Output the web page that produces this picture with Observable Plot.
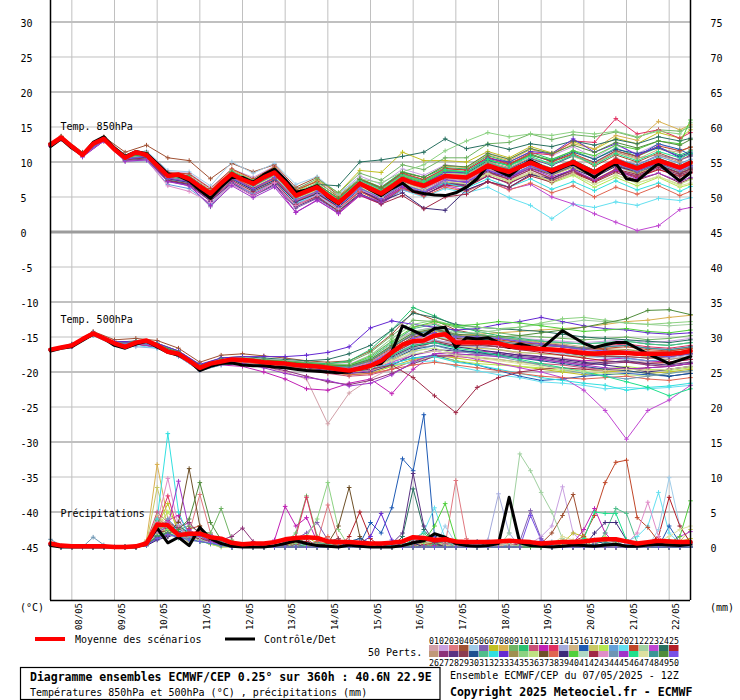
<!DOCTYPE html>
<html><head><meta charset="utf-8">
<script src="https://cdn.jsdelivr.net/npm/d3@7"></script>
<script src="https://cdn.jsdelivr.net/npm/@observablehq/plot@0.6"></script>
<style>body{margin:0;background:#fff}svg{display:block}</style>
</head><body><div id="chart"></div>
<script>
// ---------- time axes (hours after 07/05/2025 12Z) ----------
const hours6 = d3.range(0, 361, 6);
const hours12 = d3.range(0, 361, 12);
const hours850 = [0,6,18,30,42,54,66,78,90,102,114,126,138,150,162,174,186,198,210,222,234,246,258,270,282,294,306,318,330,342,354,360];
const dayHours = [12,36,60,84,108,132,156,180,204,228,252,276,300,324,348];
const dayLabels = ["08/05","09/05","10/05","11/05","12/05","13/05","14/05","15/05","16/05","17/05","18/05","19/05","20/05","21/05","22/05"];
const yTicks = [30,25,20,15,10,5,0,-5,-10,-15,-20,-25,-30,-35,-40,-45];
const rightTickLabels = ["75","70","65","60","55","50","45","40","35","30","25","20","15","10","5","0"];
const gridMajor = [30,20,10,-10,-20,-30,-40];
const gridMinor = [25,15,5,-5,-15,-25,-35];

// ---------- ensemble mean & control (6-hourly) ----------
const mean850 = [12.5,13.5,12.2,11.0,12.6,13.3,11.8,10.6,11.4,11.0,9.5,8.0,8.2,7.6,6.5,5.5,7.0,8.3,7.5,6.9,7.8,8.5,7.0,5.2,5.8,6.4,5.2,4.2,5.5,6.9,6.2,5.5,6.5,7.6,7.0,6.6,7.3,8.0,7.9,7.8,8.6,9.5,9.0,8.6,9.3,9.9,9.3,8.8,9.4,10.0,9.2,8.5,9.4,10.2,9.6,9.1,9.7,10.2,9.7,9.2,9.9];
const ctrl850 = [12.2,13.3,12.0,11.0,12.8,13.6,12.0,10.8,11.5,11.2,9.8,8.3,8.0,7.3,6.0,4.8,6.5,7.8,7.8,7.1,8.2,9.0,7.5,5.7,6.0,6.6,5.0,4.0,5.5,7.0,6.0,5.2,6.2,7.0,5.8,5.5,5.3,5.2,5.6,6.4,7.6,9.5,8.7,8.0,9.2,10.2,9.4,8.5,9.2,9.8,8.8,7.8,9.0,9.8,7.6,7.3,8.6,9.8,8.5,7.3,8.5];
const mean500 = [-16.8,-16.5,-16.2,-15.3,-14.5,-15.2,-15.9,-16.4,-15.8,-15.5,-16.2,-17.1,-17.4,-18.4,-19.4,-18.8,-18.5,-18.2,-18.3,-18.4,-18.6,-18.7,-18.8,-19.0,-19.1,-19.2,-19.4,-19.6,-19.8,-19.5,-19.1,-18.4,-17.2,-16.1,-15.6,-15.5,-14.8,-14.6,-15.8,-15.8,-15.8,-15.8,-15.9,-16.3,-16.5,-16.6,-16.7,-16.8,-16.9,-17.1,-17.3,-17.4,-17.3,-17.2,-17.3,-17.4,-17.4,-17.4,-17.4,-17.3,-17.0];
const ctrl500 = [-17.0,-16.6,-16.4,-15.5,-14.6,-15.2,-16.2,-16.6,-16.0,-15.6,-16.4,-17.2,-17.6,-18.4,-19.8,-19.2,-18.8,-18.7,-19.0,-19.1,-19.1,-19.3,-19.4,-19.6,-19.8,-19.9,-20.0,-20.1,-20.0,-19.4,-19.1,-18.8,-17.1,-13.4,-14.1,-14.8,-13.8,-13.6,-16.5,-15.1,-15.3,-15.1,-15.8,-16.5,-16.0,-16.4,-16.7,-15.4,-14.1,-15.0,-15.9,-16.5,-16.1,-15.8,-15.8,-16.6,-17.4,-18.1,-18.8,-18.3,-17.8];
const meanPrecip = [0.5,0.2,0.1,0.1,0.1,0.1,0,0,0.1,0.5,3.2,3.1,1.7,1.9,1.9,1.4,1.2,0.6,0.4,0.5,0.5,0.7,1.1,1.3,1.4,1.3,0.8,0.7,0.7,0.6,0.5,0.5,0.6,0.8,1.4,1.3,1.0,1.1,0.8,0.7,0.7,0.7,0.8,0.9,0.8,0.7,0.5,0.6,0.7,0.7,0.8,1.0,1.1,1.1,0.8,0.5,0.7,0.9,0.8,0.7,0.7];
const ctrlPrecip = [0.2,0,0,0,0,0,0,0,0,0.5,2.7,0.6,1.4,0.2,2.8,1.2,0.5,0.1,0,0,0,0.2,0.5,0.9,0.5,0.2,0.1,0,0.3,0.1,0,0,0,0.2,0.6,0.9,1.9,1.4,0.5,0.2,0.1,0.2,0.5,7.1,0.6,0.2,0.1,0,0.1,0.3,0.2,0.1,0.3,0.4,0.1,0.1,0.3,0.4,0.3,0.2,0.4];

// ---------- member colours (01..50) ----------
const memberColors = ["#d2a0a8","#c8a0e0","#e07880","#a05032","#a0cce8","#8260b0","#c0c020","#d8b050","#70b464","#28c070",
"#c85078","#c020b4","#e03060","#a4aadc","#d0b482","#1e5ab4","#c8c864","#b4e650","#64a0d8","#64e0f0",
"#c04628","#a0d0a0","#c046d2","#287060","#b41e28","#c09878","#8c3278","#5a3282","#8c3c50","#1e5090",
"#50be8c","#32e0e0","#6428d2","#a09050","#8cd282","#bee282","#6e5028","#e06450","#3c2878","#50d03c",
"#b0d8c4","#a02846","#e08cc8","#6e96b4","#a032c8","#1ee08c","#dce0a0","#3c9696","#508c3c","#7850e6"];

// ---------- 850 hPa perturbed members (hours850) ----------
const pert850 = [
[12.6,13.6,11.1,13.4,10.9,11.3,8.5,8.2,6.0,8.8,7.2,8.6,5.0,6.0,3.9,6.2,4.8,6.8,5.6,7.0,6.5,8.2,7.4,8.6,7.6,8.8,7.5,9.0,8.0,9.4,8.2,8.8],
[12.4,13.5,11.2,13.2,10.7,11.4,8.6,8.4,6.3,9.0,7.8,9.4,6.2,7.3,5.4,8.0,6.8,9.0,8.1,9.6,9.2,11.3,10.4,12.0,10.9,12.2,10.6,12.4,11.2,12.6,11.5,12.2],
[12.3,13.3,10.9,13.0,10.2,10.4,7.2,6.8,4.6,7.2,5.6,7.1,3.8,5.0,3.0,5.8,4.6,6.9,6.2,7.6,7.6,9.3,8.3,9.8,8.9,10.1,8.7,10.6,9.4,10.4,9.0,9.6],
[12.7,13.7,11.4,13.6,11.4,12.4,10.6,10.2,7.6,9.8,8.6,9.6,6.4,7.8,5.2,7.6,6.2,8.2,7.3,8.8,8.6,10.4,9.6,11.2,10.0,11.1,9.4,11.0,10.0,11.3,10.2,11.0],
[12.6,13.6,11.2,13.5,11.0,11.6,8.8,8.6,6.6,10.0,8.4,9.8,6.8,7.9,5.5,7.7,6.0,7.9,6.8,8.1,7.7,9.2,8.0,9.3,8.3,9.6,8.1,9.9,8.7,9.8,8.8,9.5],
[12.4,13.4,10.8,13.1,10.3,10.5,7.4,6.7,3.6,6.8,5.2,6.6,3.4,4.8,2.8,5.4,4.2,6.2,5.6,7.0,6.8,8.6,7.9,9.4,8.4,9.8,8.6,10.4,9.6,11.0,10.3,10.8],
[12.5,13.5,11.1,13.3,10.8,11.2,8.3,7.9,5.9,8.6,7.0,8.8,5.7,7.4,5.6,8.8,8.5,11.4,10.2,10.2,10.0,11.5,10.6,12.2,11.3,12.9,11.8,13.4,12.6,14.2,13.4,14.6],
[12.6,13.6,11.2,13.4,10.8,11.3,8.4,8.0,5.8,8.9,7.4,9.2,6.0,7.2,5.0,7.6,6.4,8.6,7.8,9.4,9.2,11.0,10.2,11.8,11.0,12.6,11.9,13.8,13.1,15.8,14.6,15.3],
[12.5,13.5,11.0,13.4,10.8,11.0,8.2,7.8,5.9,8.6,7.4,9.0,6.1,7.6,5.6,8.4,7.4,9.6,8.9,10.6,10.6,12.6,12.8,14.0,13.2,13.9,13.6,14.3,13.5,14.6,14.4,15.0],
[12.5,13.4,11.0,13.2,10.5,10.9,7.8,7.4,5.2,8.1,6.8,8.3,5.4,6.8,4.8,7.6,6.4,8.6,7.8,9.2,9.0,10.9,10.0,11.4,10.4,11.6,10.4,12.0,10.8,12.1,11.0,11.6],
[12.4,13.4,10.9,13.2,10.4,10.8,7.6,7.2,5.0,7.8,6.2,7.8,4.6,5.8,3.6,6.2,4.8,6.9,5.9,7.2,6.9,8.4,7.6,8.9,7.7,8.8,7.3,8.9,7.9,9.0,7.9,8.4],
[12.3,13.3,10.8,13.1,10.2,10.4,7.3,6.6,4.4,7.2,5.4,6.9,2.8,4.6,2.6,5.2,4.0,6.0,5.2,6.8,6.6,8.4,7.6,9.3,8.2,9.6,8.0,9.8,8.7,9.9,8.7,9.2],
[12.6,13.5,11.1,13.4,10.7,11.1,8.1,7.7,5.6,8.4,7.0,8.6,5.4,6.6,4.6,7.3,6.2,8.3,7.4,9.0,8.9,10.6,9.7,11.3,11.0,13.0,12.8,16.2,14.0,14.6,13.4,14.2],
[12.5,13.5,11.0,13.3,10.6,11.0,8.0,7.5,5.3,8.2,6.6,8.2,4.9,6.2,4.0,6.7,5.3,7.4,6.6,7.9,7.6,9.4,8.5,9.6,8.2,9.3,7.8,9.4,8.2,9.2,8.0,8.6],
[12.4,13.4,11.0,13.3,10.6,11.1,8.2,7.8,5.7,8.5,7.1,8.7,5.5,6.8,4.6,7.2,5.8,7.9,7.0,8.4,8.2,9.9,9.1,10.5,9.6,10.8,9.6,11.4,10.4,11.8,11.4,12.2],
[12.5,13.5,11.0,13.3,10.5,10.9,7.9,7.4,5.2,8.0,6.6,8.1,4.8,6.0,3.9,6.5,5.2,7.4,6.5,8.1,8.0,9.8,9.0,10.5,9.5,10.9,10.0,11.6,10.8,12.6,11.8,11.0],
[12.5,13.5,11.1,13.4,10.7,11.1,8.1,7.8,5.6,8.5,7.1,8.7,5.2,6.3,4.0,6.6,5.2,7.2,6.3,7.6,7.3,9.0,8.0,9.2,8.1,9.2,7.8,9.5,8.3,9.3,8.2,8.7],
[12.4,13.4,10.9,13.2,10.5,10.9,7.9,7.4,5.3,8.0,6.5,8.0,4.7,5.9,3.8,6.4,4.9,6.9,5.8,7.1,6.7,8.3,7.2,8.3,7.0,8.1,6.4,7.8,6.6,7.8,6.4,6.8],
[12.4,13.3,10.8,13.1,10.1,10.2,6.8,6.2,4.0,7.0,5.5,7.2,4.0,5.4,3.4,6.1,5.0,7.0,6.2,7.6,7.4,9.2,8.4,9.7,8.8,10.0,8.8,10.4,9.6,10.8,9.8,10.4],
[12.4,13.4,10.9,13.2,10.4,10.6,7.4,6.8,4.6,7.4,5.8,7.2,4.2,5.2,3.2,5.4,4.2,6.0,5.0,6.2,5.6,6.4,4.9,3.8,1.9,4.0,3.5,4.3,3.8,4.8,4.5,4.9],
[12.6,13.6,11.2,13.5,10.9,11.4,8.5,8.3,6.2,9.0,7.6,9.3,6.0,7.2,5.0,7.6,6.3,8.4,7.5,9.1,8.8,10.7,9.8,11.0,10.1,11.2,9.9,11.6,10.8,12.3,11.6,12.1],
[12.5,13.5,11.0,13.3,10.6,11.0,8.0,7.7,5.5,8.3,6.9,8.5,5.2,6.4,4.3,7.0,5.6,7.8,6.8,8.4,8.1,9.8,8.8,10.0,8.8,10.0,8.3,10.0,8.9,10.0,9.0,9.6],
[12.4,13.4,10.9,13.2,10.4,10.7,7.6,7.2,5.0,7.8,6.2,7.8,4.6,5.6,3.8,6.0,4.6,6.4,5.4,6.6,6.0,7.2,6.1,6.8,5.0,4.0,2.6,1.4,0.2,0.9,3.2,3.5],
[12.6,13.6,11.2,13.5,10.8,11.3,8.4,8.0,5.8,8.6,7.2,8.8,5.6,6.8,6.6,10.0,10.3,10.8,11.4,13.3,11.9,12.5,11.8,12.6,12.2,13.0,12.4,13.2,12.6,13.6,13.0,13.4],
[12.4,13.4,10.9,13.2,10.5,10.9,7.8,7.3,5.1,7.9,6.3,7.7,4.4,5.5,3.3,5.8,4.4,6.3,5.3,6.7,6.4,8.0,7.0,8.3,7.3,8.4,7.2,8.7,7.8,8.9,8.0,8.5],
[12.5,13.5,11.1,13.4,10.7,11.2,8.2,7.9,5.8,8.6,7.2,8.9,5.6,6.9,4.7,7.3,6.0,8.1,7.2,8.7,8.4,10.1,9.2,10.6,9.6,11.0,9.8,11.4,10.6,11.0,10.0,11.8],
[12.4,13.4,10.9,13.2,10.5,10.8,7.6,7.2,5.0,7.8,6.1,7.6,4.3,5.5,3.5,6.0,4.6,6.6,5.6,7.0,6.6,8.0,6.9,8.4,7.4,8.6,7.4,8.8,8.0,9.2,8.2,8.7],
[12.3,13.3,10.8,13.0,10.2,10.4,7.3,6.8,4.4,7.0,5.2,6.8,3.6,4.9,3.0,5.5,4.1,6.2,5.2,6.9,6.8,8.6,7.8,9.1,8.2,9.4,8.0,9.6,8.6,9.8,8.7,9.3],
[12.5,13.5,11.0,13.3,10.6,11.0,7.9,7.5,5.4,8.2,6.7,8.2,4.9,6.1,4.0,6.6,5.2,7.2,6.1,7.5,7.0,8.6,7.5,8.9,7.6,8.8,7.1,8.5,7.4,8.4,7.0,7.6],
[12.5,13.5,11.0,13.3,10.5,10.9,7.9,7.5,5.3,8.1,6.7,8.3,5.1,6.3,4.4,7.1,5.8,7.9,7.0,8.6,8.4,10.2,9.5,11.0,10.2,11.4,10.4,11.8,11.2,12.0,10.8,11.4],
[12.5,13.5,11.1,13.4,10.7,11.1,8.1,7.7,5.6,8.4,7.0,8.6,5.3,6.5,4.4,7.1,5.8,7.9,7.1,8.6,8.3,10.0,8.9,10.2,9.1,10.3,8.8,10.4,9.3,10.6,9.3,10.0],
[12.4,13.4,10.9,13.1,10.3,10.6,7.5,7.0,4.8,7.6,6.0,7.4,4.3,5.6,3.6,6.2,4.8,6.8,5.8,7.0,6.3,7.6,6.4,7.6,6.1,7.2,5.9,7.3,6.0,7.0,5.8,6.5],
[12.5,13.5,11.0,13.3,10.5,10.9,7.9,7.4,5.2,8.0,6.5,8.1,4.9,6.2,4.1,6.8,5.5,7.7,6.8,8.5,8.6,10.5,10.0,11.5,11.2,13.3,11.4,12.6,11.0,12.2,10.6,11.2],
[12.5,13.5,11.1,13.3,10.6,11.0,8.0,7.6,5.5,8.3,6.9,8.4,5.1,6.3,4.2,6.9,5.4,7.5,6.5,7.8,7.4,9.0,8.1,9.4,8.2,9.5,8.0,9.5,8.4,9.6,8.5,9.1],
[12.5,13.5,11.1,13.4,10.7,11.1,8.2,7.8,5.7,8.6,7.2,8.8,5.7,7.0,5.2,7.6,7.0,8.6,9.6,11.6,13.0,14.2,13.6,14.0,13.8,14.3,14.0,14.4,13.6,14.4,14.0,15.6],
[12.4,13.4,10.9,13.2,10.5,10.9,7.8,7.3,5.2,8.0,6.5,8.0,4.7,6.0,3.9,6.5,5.1,7.1,6.1,7.3,6.9,8.4,7.2,8.4,7.2,8.2,6.8,8.1,7.0,7.9,6.8,7.5],
[12.5,13.5,11.0,13.3,10.6,11.1,8.1,7.7,5.6,8.4,7.0,8.6,5.3,6.5,4.3,7.0,5.6,7.6,6.6,8.0,7.8,9.6,8.6,9.9,8.9,10.2,8.8,10.4,9.4,10.5,9.5,10.1],
[12.4,13.4,10.9,13.2,10.4,10.8,7.7,7.2,5.0,7.8,6.2,7.6,4.4,5.6,3.4,5.8,4.3,6.2,5.1,6.4,5.8,7.2,6.0,7.0,5.6,6.6,5.0,6.4,5.4,6.6,5.2,5.8],
[12.4,13.4,10.9,13.2,10.4,10.7,7.6,7.1,4.8,7.6,6.0,7.4,4.3,5.5,3.6,6.0,4.4,5.6,3.4,3.1,6.0,7.2,6.4,8.2,7.6,9.0,7.8,9.4,8.6,9.6,8.4,9.0],
[12.5,13.5,11.0,13.3,10.6,11.0,8.0,7.6,5.4,8.3,6.8,8.4,5.1,6.4,4.4,7.1,5.9,8.0,7.1,8.8,8.6,10.3,9.5,11.0,10.3,11.6,10.9,12.4,11.8,13.0,12.6,16.0],
[12.5,13.5,11.0,13.3,10.6,11.0,8.0,7.6,5.5,8.3,6.9,8.5,5.2,6.4,4.2,6.9,5.5,7.6,6.6,8.1,7.9,9.5,8.6,9.9,8.7,9.9,8.4,10.1,9.0,10.2,9.1,9.7],
[12.4,13.3,10.8,13.1,10.3,10.6,7.4,6.9,4.6,7.4,5.8,7.2,3.9,5.1,3.0,5.3,4.0,5.2,3.3,5.0,5.4,7.2,6.4,8.0,7.1,8.5,7.4,9.0,8.2,9.4,8.4,8.9],
[12.3,13.3,10.8,13.0,10.1,10.3,6.6,5.8,4.2,6.8,5.2,7.0,3.8,5.3,3.4,6.0,4.9,7.0,6.1,7.6,7.4,9.0,8.1,9.4,8.5,9.6,8.4,9.8,8.9,10.0,8.8,9.4],
[12.5,13.5,11.0,13.3,10.6,11.0,8.0,7.6,5.4,8.2,6.7,8.3,5.0,6.2,4.0,6.6,5.2,7.3,6.4,7.9,7.6,9.2,8.1,9.4,8.3,9.6,8.2,9.8,8.6,9.7,8.7,9.3],
[12.3,13.3,10.7,13.0,10.1,10.3,7.2,6.6,3.8,6.6,4.9,6.4,2.8,4.5,2.7,5.3,4.3,6.4,5.6,7.3,7.2,8.8,7.9,9.1,7.9,8.9,7.4,8.8,7.6,8.4,7.2,7.8],
[12.5,13.5,11.1,13.4,10.7,11.2,8.2,7.8,5.7,8.6,7.2,8.8,5.5,6.8,4.7,7.4,6.1,8.2,7.3,8.9,8.6,10.4,9.4,10.8,9.7,11.0,9.6,11.2,10.2,11.5,10.6,11.2],
[12.5,13.5,11.0,13.3,10.6,11.0,7.9,7.5,5.4,8.2,6.7,8.2,4.9,6.1,3.9,6.5,5.0,7.0,6.0,7.3,6.9,8.3,7.3,8.6,7.2,8.4,6.8,8.2,7.0,8.0,6.6,7.0],
[12.4,13.4,11.0,13.2,10.5,10.9,7.9,7.4,5.3,8.1,6.6,8.2,4.9,6.2,4.1,6.8,5.4,7.5,6.6,8.2,7.9,9.6,8.7,10.0,8.9,10.1,8.7,10.3,9.2,10.4,9.3,9.9],
[12.5,13.5,11.1,13.4,10.7,11.1,8.1,7.7,5.6,8.5,7.1,8.7,5.5,6.8,4.8,7.5,6.3,8.5,7.8,9.5,9.3,11.2,10.4,11.9,11.2,12.4,11.4,12.8,12.0,13.0,12.4,13.2],
[12.4,13.4,10.9,13.2,10.4,10.8,7.7,7.2,5.0,7.7,6.2,7.8,4.6,5.8,3.8,6.3,4.8,6.8,5.8,7.4,7.1,8.8,7.9,9.4,8.4,9.7,8.3,9.8,8.8,10.0,8.9,9.5]
];

// ---------- 500 hPa perturbed members (hours12) ----------
const pert500 = [
[-16.9,-16.3,-14.4,-15.8,-15.6,-16.0,-17.0,-19.0,-18.4,-18.6,-19.2,-20.0,-21.0,-27.4,-23.0,-21.0,-19.4,-17.0,-15.6,-16.2,-16.4,-16.8,-17.4,-17.8,-18.0,-18.4,-18.6,-18.4,-18.6,-18.8,-18.6],
[-16.8,-16.2,-14.4,-15.8,-15.7,-16.1,-17.2,-19.2,-18.2,-18.0,-18.2,-18.4,-18.6,-18.8,-18.9,-17.6,-15.6,-14.2,-13.6,-14.6,-14.8,-15.0,-15.2,-15.4,-15.6,-15.8,-15.6,-15.4,-15.8,-15.6,-15.2],
[-16.9,-16.3,-14.6,-16.0,-15.9,-16.3,-17.6,-19.6,-18.8,-18.6,-18.9,-19.0,-19.3,-19.6,-20.0,-19.6,-18.4,-16.8,-15.6,-15.8,-15.4,-15.2,-15.6,-15.8,-16.4,-17.0,-17.2,-17.4,-17.8,-17.6,-17.0],
[-16.7,-16.0,-14.2,-15.4,-15.2,-15.5,-16.6,-18.6,-17.6,-17.4,-17.7,-18.0,-18.4,-18.6,-18.4,-17.0,-14.6,-11.4,-12.6,-14.0,-14.6,-15.0,-15.4,-15.8,-16.2,-16.6,-16.8,-17.0,-17.2,-17.0,-16.6],
[-16.8,-16.3,-14.8,-16.1,-15.9,-16.4,-17.5,-19.5,-18.6,-18.4,-18.8,-19.0,-19.4,-19.8,-20.2,-19.8,-18.6,-17.2,-16.2,-16.4,-16.2,-16.4,-16.8,-17.0,-17.4,-17.8,-18.0,-18.2,-18.4,-18.6,-18.2],
[-16.8,-16.2,-14.5,-15.9,-15.8,-16.1,-17.3,-19.3,-18.4,-18.1,-18.4,-18.6,-18.8,-19.0,-19.2,-18.2,-16.4,-14.8,-13.9,-14.8,-15.0,-15.2,-15.8,-16.0,-16.2,-16.6,-16.4,-16.2,-16.6,-16.8,-16.4],
[-16.8,-16.2,-14.6,-16.0,-15.9,-16.3,-17.5,-19.4,-18.6,-18.5,-18.8,-19.1,-19.5,-19.9,-20.4,-20.2,-19.2,-18.2,-17.6,-18.0,-18.4,-18.8,-19.2,-19.6,-20.0,-20.4,-20.0,-19.8,-20.2,-20.0,-19.6],
[-16.8,-16.2,-14.5,-15.9,-15.8,-16.2,-17.3,-19.3,-18.4,-18.2,-18.4,-18.6,-18.8,-19.0,-19.2,-18.6,-16.8,-15.0,-14.2,-14.8,-14.6,-14.4,-14.2,-14.0,-13.8,-13.6,-13.2,-12.8,-12.6,-12.2,-11.9],
[-16.8,-16.1,-14.4,-15.8,-15.6,-16.0,-17.1,-19.1,-18.2,-18.0,-18.2,-18.4,-18.6,-18.8,-18.6,-17.2,-14.8,-12.6,-12.8,-13.6,-14.0,-14.4,-14.8,-15.0,-15.2,-15.4,-15.2,-15.0,-15.4,-15.2,-14.8],
[-16.8,-16.2,-14.5,-15.8,-15.7,-16.1,-17.2,-19.2,-18.3,-18.1,-18.3,-18.5,-18.7,-18.8,-18.4,-16.8,-14.0,-10.8,-12.0,-13.4,-14.2,-14.8,-15.2,-15.6,-15.8,-16.0,-15.8,-15.6,-16.0,-16.2,-15.8],
[-16.9,-16.3,-14.6,-16.0,-16.0,-16.4,-17.6,-19.6,-18.8,-18.7,-19.0,-19.3,-19.7,-20.2,-20.6,-20.4,-19.6,-18.4,-17.6,-17.8,-18.0,-18.2,-18.6,-18.8,-19.0,-19.4,-19.6,-19.4,-19.8,-19.6,-19.2],
[-16.8,-16.3,-14.6,-16.1,-16.0,-16.5,-17.8,-19.8,-19.0,-19.2,-20.0,-21.0,-22.4,-22.6,-21.6,-21.0,-23.1,-19.6,-17.4,-17.2,-17.0,-17.2,-17.6,-17.8,-18.2,-18.4,-18.2,-18.0,-18.4,-18.6,-18.2],
[-16.8,-16.2,-14.5,-15.9,-15.8,-16.2,-17.3,-19.3,-18.5,-18.3,-18.6,-18.8,-19.1,-19.4,-19.6,-18.8,-17.0,-15.4,-14.6,-15.4,-15.4,-15.6,-16.0,-16.2,-16.4,-16.6,-16.2,-16.0,-16.4,-16.6,-16.2],
[-16.9,-16.4,-14.7,-16.1,-16.4,-16.6,-17.6,-19.5,-18.6,-18.4,-18.7,-18.9,-19.2,-19.5,-19.8,-19.2,-17.6,-16.0,-15.4,-16.0,-16.4,-16.8,-17.2,-17.4,-17.6,-17.8,-17.6,-17.4,-17.8,-18.0,-17.6],
[-16.8,-16.2,-14.5,-15.8,-15.6,-16.0,-17.2,-19.2,-18.4,-18.2,-18.4,-18.6,-19.0,-19.2,-19.4,-18.4,-16.2,-13.6,-13.0,-14.2,-14.6,-15.0,-15.4,-15.8,-16.0,-16.4,-16.6,-16.8,-17.0,-17.2,-16.8],
[-16.8,-16.2,-14.6,-16.0,-15.9,-16.3,-17.5,-19.5,-18.6,-18.5,-18.8,-19.1,-19.4,-19.7,-20.0,-19.6,-18.8,-18.0,-17.6,-18.4,-19.0,-19.8,-20.6,-21.2,-21.0,-20.6,-20.4,-20.2,-20.4,-20.6,-20.2],
[-16.8,-16.2,-14.5,-15.9,-15.8,-16.2,-17.4,-19.4,-18.5,-18.3,-18.6,-18.8,-19.2,-19.5,-19.8,-19.4,-18.0,-16.4,-15.8,-16.4,-16.6,-16.8,-17.2,-17.4,-17.6,-17.8,-17.6,-17.4,-17.8,-17.6,-17.2],
[-16.8,-16.2,-14.6,-16.0,-15.9,-16.3,-17.4,-19.4,-18.6,-18.4,-18.7,-18.9,-19.2,-19.6,-20.0,-19.8,-19.2,-18.6,-17.8,-18.4,-18.8,-19.0,-19.2,-19.4,-19.8,-20.0,-19.6,-19.2,-19.6,-19.8,-19.4],
[-16.9,-16.3,-14.6,-15.9,-15.8,-16.2,-17.3,-19.3,-18.4,-18.2,-18.5,-18.7,-19.0,-19.2,-19.4,-18.8,-17.4,-15.8,-15.0,-15.8,-16.0,-16.2,-16.6,-16.8,-17.2,-17.6,-17.8,-18.0,-18.4,-18.2,-17.8],
[-16.9,-16.4,-14.8,-16.2,-16.2,-16.6,-17.8,-19.8,-19.0,-18.8,-19.0,-19.2,-19.4,-19.6,-19.8,-19.6,-19.0,-18.6,-18.4,-19.2,-19.8,-20.4,-20.8,-21.4,-21.6,-21.9,-22.4,-22.2,-22.4,-22.2,-21.9],
[-16.8,-16.2,-14.5,-15.9,-15.8,-16.1,-17.2,-19.2,-18.4,-18.2,-18.4,-18.6,-18.8,-19.0,-19.2,-18.4,-16.6,-14.6,-13.8,-14.8,-15.2,-15.4,-15.8,-16.0,-16.4,-16.8,-16.6,-16.4,-16.8,-17.0,-16.6],
[-16.8,-16.2,-14.5,-15.8,-15.7,-16.1,-17.2,-19.2,-18.3,-18.1,-18.3,-18.5,-18.8,-19.0,-19.0,-18.0,-16.0,-14.2,-13.6,-14.4,-14.4,-14.0,-13.6,-13.2,-13.0,-12.6,-12.8,-13.0,-13.2,-13.4,-13.2],
[-16.8,-16.2,-14.5,-15.9,-15.8,-16.2,-17.4,-19.4,-18.6,-18.4,-18.7,-19.0,-19.4,-19.8,-20.2,-19.8,-18.6,-17.6,-17.0,-17.6,-18.2,-18.8,-19.4,-20.0,-20.8,-22.6,-25.5,-29.6,-25.5,-24.0,-21.9],
[-16.8,-16.1,-14.4,-15.7,-15.6,-15.9,-17.0,-19.0,-18.0,-17.8,-18.0,-18.2,-18.4,-18.2,-17.4,-16.2,-14.0,-11.6,-12.2,-13.2,-13.6,-13.8,-14.0,-14.2,-14.6,-15.0,-15.2,-15.4,-15.6,-15.8,-15.4],
[-16.8,-16.2,-14.5,-15.9,-15.8,-16.2,-17.4,-19.4,-18.6,-18.4,-18.7,-19.0,-19.3,-19.6,-19.8,-19.0,-17.4,-15.8,-15.0,-15.8,-16.0,-16.4,-16.8,-17.2,-17.6,-18.0,-18.4,-18.6,-18.8,-18.6,-18.2],
[-16.8,-16.2,-14.5,-15.9,-15.8,-16.2,-17.3,-19.3,-18.4,-18.2,-18.5,-18.7,-19.0,-19.2,-19.2,-18.2,-16.2,-14.4,-14.0,-15.0,-15.4,-15.8,-16.2,-16.6,-17.0,-17.4,-17.6,-17.8,-18.0,-18.2,-17.8],
[-16.8,-16.3,-14.6,-16.0,-16.0,-16.4,-17.6,-19.6,-18.8,-18.8,-19.2,-19.8,-20.6,-21.4,-21.8,-21.2,-20.2,-18.8,-17.8,-17.6,-17.4,-17.6,-18.0,-18.2,-18.6,-19.0,-18.8,-18.6,-19.0,-19.2,-18.8],
[-16.9,-16.3,-14.6,-16.0,-15.9,-16.3,-17.5,-19.5,-18.7,-18.5,-18.8,-19.1,-19.4,-19.8,-20.2,-20.0,-19.0,-17.6,-16.8,-17.0,-17.2,-17.4,-17.8,-18.0,-18.4,-18.8,-18.6,-18.4,-18.8,-19.0,-18.6],
[-16.8,-16.2,-14.5,-15.9,-15.8,-16.2,-17.4,-19.4,-18.5,-18.3,-18.6,-18.8,-19.1,-19.4,-19.6,-19.0,-17.6,-16.2,-15.6,-16.2,-16.2,-16.4,-16.8,-17.0,-17.2,-17.6,-17.8,-17.8,-18.0,-17.8,-17.4],
[-16.8,-16.2,-14.5,-15.9,-15.8,-16.2,-17.4,-19.4,-18.6,-18.4,-18.7,-18.9,-19.2,-19.5,-19.8,-19.4,-18.2,-16.8,-16.2,-16.8,-17.2,-17.6,-18.0,-18.4,-18.8,-19.2,-19.6,-19.8,-20.2,-20.6,-20.2],
[-16.8,-16.2,-14.5,-15.9,-15.8,-16.2,-17.3,-19.3,-18.4,-18.2,-18.5,-18.7,-19.0,-19.2,-19.2,-18.0,-15.8,-13.8,-13.2,-14.2,-14.6,-15.0,-15.4,-15.6,-15.8,-16.0,-15.8,-15.6,-16.0,-16.2,-15.8],
[-16.8,-16.2,-14.6,-16.0,-15.9,-16.3,-17.5,-19.5,-18.7,-18.5,-18.8,-19.0,-19.3,-19.6,-19.9,-19.6,-18.8,-18.0,-17.8,-18.6,-19.0,-19.6,-20.2,-20.8,-21.2,-21.6,-21.9,-22.6,-22.2,-22.0,-21.6],
[-16.8,-16.1,-14.4,-15.7,-15.6,-15.9,-17.0,-18.9,-18.0,-17.8,-17.8,-17.8,-17.6,-17.2,-16.4,-13.7,-12.7,-13.2,-13.6,-14.0,-13.8,-13.2,-12.8,-12.2,-12.8,-13.4,-13.8,-14.0,-14.4,-14.6,-14.4],
[-16.8,-16.2,-14.5,-15.9,-15.8,-16.2,-17.4,-19.4,-18.5,-18.3,-18.6,-18.8,-19.1,-19.4,-19.6,-19.0,-17.4,-15.6,-15.0,-15.6,-15.6,-15.8,-16.2,-16.6,-17.0,-17.2,-17.0,-16.8,-17.2,-17.4,-17.0],
[-16.8,-16.2,-14.5,-15.9,-15.7,-16.1,-17.2,-19.2,-18.3,-18.1,-18.3,-18.5,-18.8,-19.0,-19.0,-17.6,-15.2,-13.2,-12.6,-13.4,-13.6,-13.8,-13.6,-13.0,-12.4,-12.2,-12.6,-13.0,-13.2,-13.0,-12.8],
[-16.8,-16.2,-14.6,-16.0,-15.9,-16.3,-17.5,-19.5,-18.7,-18.5,-18.8,-19.0,-19.3,-19.6,-19.9,-19.4,-18.2,-17.0,-16.6,-17.4,-17.8,-18.2,-18.6,-19.0,-19.4,-19.8,-20.2,-20.4,-20.6,-20.2,-19.8],
[-16.8,-16.2,-14.5,-15.9,-15.8,-16.2,-17.3,-19.3,-18.5,-18.3,-18.5,-18.7,-19.0,-19.3,-19.4,-18.6,-16.8,-15.0,-14.4,-15.2,-15.4,-15.8,-16.4,-16.8,-17.2,-17.6,-17.4,-17.2,-17.6,-17.8,-17.4],
[-16.9,-16.3,-14.7,-16.1,-16.0,-16.4,-17.6,-19.6,-18.8,-18.6,-18.9,-19.2,-19.6,-20.0,-20.4,-20.2,-19.6,-19.0,-18.6,-19.0,-19.4,-19.8,-20.2,-20.6,-20.8,-21.0,-20.8,-20.6,-21.0,-21.2,-20.8],
[-16.8,-16.2,-14.5,-15.9,-15.8,-16.2,-17.4,-19.4,-18.5,-18.3,-18.6,-18.9,-19.2,-19.5,-19.8,-19.2,-17.8,-16.4,-15.8,-16.4,-16.8,-17.2,-17.6,-17.8,-18.2,-18.6,-19.0,-19.4,-20.0,-19.6,-19.2],
[-16.8,-16.2,-14.5,-15.9,-15.7,-16.1,-17.2,-19.2,-18.3,-18.1,-18.3,-18.5,-18.8,-19.0,-19.0,-17.8,-15.6,-13.6,-12.8,-13.4,-13.2,-12.8,-13.0,-13.4,-13.8,-14.2,-14.0,-13.8,-14.2,-14.4,-14.0],
[-16.8,-16.2,-14.5,-15.9,-15.8,-16.2,-17.4,-19.4,-18.5,-18.3,-18.6,-18.8,-19.1,-19.3,-19.5,-18.8,-17.0,-15.4,-14.8,-15.6,-15.8,-16.0,-16.4,-16.8,-17.0,-17.4,-17.2,-17.0,-17.4,-17.6,-17.2],
[-16.8,-16.2,-14.5,-15.9,-15.8,-16.2,-17.4,-19.4,-18.6,-18.4,-18.7,-18.9,-19.2,-19.6,-19.9,-19.6,-19.0,-20.8,-23.4,-25.8,-22.2,-20.8,-20.0,-19.6,-19.4,-19.6,-19.8,-19.6,-19.4,-19.2,-18.8],
[-16.8,-16.2,-14.5,-15.9,-15.8,-16.2,-17.3,-19.3,-18.4,-18.2,-18.5,-18.7,-19.0,-19.3,-19.4,-18.6,-16.8,-15.2,-14.6,-15.4,-15.8,-16.2,-16.6,-17.0,-17.2,-17.4,-17.2,-17.0,-17.2,-17.4,-17.0],
[-16.8,-16.2,-14.5,-15.9,-15.8,-16.2,-17.4,-19.4,-18.6,-18.4,-18.7,-19.0,-19.3,-19.6,-19.9,-19.4,-18.0,-16.6,-16.2,-17.0,-17.4,-17.8,-18.4,-19.0,-19.6,-20.2,-20.6,-21.0,-20.6,-20.2,-19.8],
[-16.8,-16.3,-14.6,-16.0,-16.0,-16.4,-17.6,-19.6,-18.8,-18.8,-19.4,-20.2,-20.8,-21.2,-22.0,-21.6,-20.4,-18.6,-17.4,-17.4,-17.6,-17.8,-18.0,-18.2,-18.6,-19.0,-19.4,-19.6,-19.4,-19.2,-18.8],
[-16.8,-16.2,-14.5,-15.9,-15.8,-16.2,-17.4,-19.4,-18.5,-18.3,-18.6,-18.8,-19.1,-19.4,-19.6,-19.0,-17.6,-16.2,-15.8,-16.6,-17.0,-17.6,-18.2,-18.8,-19.4,-20.0,-20.6,-21.4,-22.2,-23.4,-22.4],
[-16.8,-16.2,-14.5,-15.9,-15.8,-16.2,-17.4,-19.4,-18.5,-18.3,-18.6,-18.8,-19.2,-19.5,-19.8,-19.4,-18.4,-17.4,-17.0,-17.6,-18.0,-18.4,-18.8,-19.2,-19.6,-20.0,-19.8,-19.6,-19.8,-19.6,-19.2],
[-16.8,-16.2,-14.5,-15.9,-15.8,-16.2,-17.3,-19.3,-18.4,-18.2,-18.5,-18.7,-19.0,-19.2,-19.3,-18.4,-16.4,-14.6,-14.0,-14.8,-15.2,-15.6,-16.0,-16.2,-16.4,-16.6,-16.4,-16.2,-16.6,-16.8,-16.4],
[-16.8,-16.2,-14.5,-15.9,-15.7,-16.1,-17.2,-19.2,-18.3,-18.1,-18.3,-18.5,-18.8,-19.0,-19.1,-18.2,-16.2,-14.4,-13.8,-14.6,-14.8,-15.0,-14.8,-14.4,-14.0,-13.6,-13.0,-12.4,-11.2,-11.1,-11.8],
[-16.8,-16.2,-14.5,-15.9,-15.8,-16.2,-17.4,-19.4,-18.5,-18.3,-18.6,-18.8,-19.1,-19.4,-19.6,-18.8,-17.0,-15.2,-14.4,-15.0,-15.0,-15.2,-15.6,-16.0,-16.4,-16.8,-17.0,-17.2,-17.6,-17.8,-17.4]
];

// ---------- precipitation perturbed members, mm per 6 h (hours6) ----------
const pertPrecip = [
[0.4,0,0,0,0,0,0,0,0,0.5,2.5,4.0,2.0,1.2,0.8,0.5,0.3,0,0,0,0,0,0.4,1.2,0.6,0,0,0,0,0,0,0,0,0,0.5,1.0,0.4,0,0,0,0,0,0,0.8,0.3,0,0,0,0,0,0,0.6,1.4,0.5,0,0,0,0,0.4,0,0],
[0.3,0,0,0,0,0,0,0,0,0.2,3.5,2.0,1.5,2.5,1.0,0.4,0,0,0,0,0,0.3,0,0,0.8,0.5,0,0,0,0,0,0,0.4,0,0,0,0,0.6,0.2,0,0,0,0,0,0,0.5,1.5,3.0,8.6,2.0,0.5,0,0,0,0,0.3,0,0,0,0,0],
[0.5,0,0,0,0,0,0,0,0,0.8,4.2,3.0,1.5,2.0,7.5,2.0,0.6,0,0,0,0,0,0.5,0,0,0.6,6.0,1.0,0,0,0,0,0,0,0.4,1.0,0.6,0.3,9.5,1.2,0,0,0,0,0.6,0.2,0,0,0,0,0,0,0,0.4,0,0,0.6,0,0,0,0.2],
[0.3,0,0,0,0,0,0,0,0,0.4,2.0,3.5,2.8,1.5,2.2,1.0,0.5,0,0,0,0,0,0,0.6,1.2,0,0,0,0.3,0,0,0,0,0,0,0.8,1.5,0.4,0,0,0,0,0,0,0,0,0.5,2.0,4.5,7.5,1.0,0,0,0,0,0,0,0.3,0.5,0,0.3],
[0.4,0,0,0,0,0,0,0,0,0.3,1.8,2.4,3.2,2.0,1.5,1.2,0.8,0,0,0,0,0,0,0,0.3,0.6,0.4,0,0,0,0,0,0,0.5,1.2,0.8,0,3.0,0.5,0,0,0,0,0,0,0,0.4,0.8,0.2,0,0,0,0.3,0.6,0,0,0,2.5,9.9,3.0,0.5],
[0.3,0,0,0,0,0,0,0,0,0.4,2.2,1.5,3.6,2.4,1.0,1.8,0.6,0.2,0,0,0,0,0.5,1.2,2.0,3.5,1.0,0,0,0,0,0,0,0,0.4,0.2,0,0,0,0.5,0.4,0,0,0,0.8,5.2,1.2,0,0,0,0,0,0,0,0.5,0.3,0,0,0,0,0],
[0.4,0,0,0,0,0,0,0,0,0.6,3.0,6.2,2.0,1.2,1.4,0.6,0.3,0,0,0,0,0,0,0.8,1.5,0.5,0,0,0,0,0.2,0,0,0,0,0.5,1.0,0,0,0,0,0,0,0,0,0.3,0,0,0.6,2.0,1.5,0.5,0,0,0,0,0,0,0.4,0.8,1.2],
[0.5,0,0,0,0,0,0,0,0,1.0,11.8,4.0,1.5,0.8,1.2,0.5,0.2,0,0,0,0,0,0.4,0,0,0.8,0.3,0,0,0,0,0,0,0,0.2,0.6,0.3,0,0,0,0,0,0,0,0,0,0,0.4,1.0,0.3,0,0,0,0,0,0.3,0,0,0,0,0],
[0.3,0,0,0,0,0,0,0,0,0.2,1.5,2.0,2.5,3.0,2.2,2.0,5.5,1.0,0,0,0,0,0.6,2.0,7.3,1.5,0.4,0,0,0,0,0,0,0,0,0.3,0.8,0,0,0,0,0,0,0,0,0,0.4,0,0,0,0,0.5,0.8,0,0,0,0,0,0,0,0],
[0.3,0,0,0,0,0,0,0,0,0.5,3.8,2.6,1.8,1.5,1.0,0.8,0.5,0,0,0,0,0,0,0.4,0.6,0,0,0,0,0.3,0,0,0,0,1.2,2.0,0.5,0,0.4,0,0,0,0,0,0,0,0,0.6,0,0,0,0,0,0,0,0,0,0.5,1.0,0.4,0],
[0.4,0,0,0,0,0,0,0,0,0.8,5.0,3.5,2.6,1.8,1.2,1.0,0.4,0,0,0,0,0,0,0,0.8,0,0,0,0,0,0,0,0.5,0,0,0,0,0.5,0.8,0,0,0,0,0.3,0,0,0,0,0,0.4,0,0,0,0,0,0,0,0.3,0,0,0],
[0.3,0,0,0,0,0,0,0,0,0.4,2.4,3.8,4.5,2.0,1.5,0.8,0.2,0,0,0,0.3,1.0,5.8,3.0,4.2,0.8,0,0,0,0,0,0,0,0,0,0.6,0.2,0,0,0,0,0,0,0,0,0,0,0,0,0.6,2.5,5.5,2.0,0.4,0,0,0,0,0,0,0],
[0.4,0,0,0,0,0,0,0,0,0.3,3.0,7.3,2.2,1.0,1.2,0.6,0.3,0,0,0,0,0,0.8,1.5,7.1,1.2,0,0,0,0,0,0,0,0,0,0.4,0,0,0,0,0,0,0,0,0.5,0,0,0,0,0,0,0,0,0.8,0,0,0,0,0,0.5,0],
[0.3,0,0,0,0,0,0,0,0,0.2,1.2,2.0,1.5,1.8,1.5,0.8,0.6,0,0,0,0,0,0,0,0.4,0,0,0,0.5,0,0,0,0,0,0,0.8,0.4,0,0,0,0,1.0,7.6,2.0,0,0,0,0,0,0,0,0,0,0,0,0,0,0,0,0,0],
[0.3,0,0,0,0,0,0,0,0,0.6,4.5,3.2,1.5,1.2,0.8,0.6,0.3,0,0,0,0,0,0,0,0,0.4,0.8,0,0,0,0,0,0,0,0,0,0,0.6,0.3,0,0,0,0,0.4,0,0,0,0,0,0,0,0,0.3,0.6,0,0,0,0,0.3,0,0],
[0.3,0,0,0,0,0,0,0,0,0.3,1.5,2.0,1.2,1.6,1.0,0.5,0.2,0,0,0,0,0,0,0,0,0.4,0,0.6,0.4,0.4,3.5,2.0,5.6,12.6,10.9,18.9,1.5,0,0,0,0,0,0,0,0,0,0,0,0,0,0,0.4,0,0,0,0,0,0,3.0,0.6,0],
[0.3,0,0,0,0,0,0,0,0,0.5,8.5,3.0,2.0,1.2,0.8,0.5,0.3,0,0,0,0,0,0,0,0.5,0,0,0,0,0,0,0,0,0,0,0,0.4,0,0,0,0,0,0,0,0,0,0,0,0.4,0.6,0,0,0.5,0,0,0,0,0,0,0.8,2.5],
[0.3,0,0,0,0,0,0,0,0,0.4,2.8,5.0,3.0,1.5,1.0,0.4,0,0,0,0,0,0,0.4,0.8,0.3,0,0,0,0,0,0,0,0,0.3,0.8,0.4,0,0,0,0,0,0,0,0,0,0,0,0,0,0.5,0.3,0,0,0,0,0,0.4,0.8,0.3,0,0],
[0.4,0,0,0,0,0,0,0,0,0.3,2.0,4.0,2.5,2.2,1.8,1.4,0.8,0.2,0,0,0,0,0,0.3,0.6,0.3,0,0,0,0,0,0,0.5,0,0,0.3,0,0,0,0,0,0,0.6,0,0,0,0,0,0,0,0,0,0,0,0.4,0,0,0,0,0,0.6],
[0.3,0,0,0,0,0,0,0,0,0.3,2.2,3.0,2.5,1.4,1.0,0.6,0.3,0,0,0,0,0,0,0,0.6,0.3,0,0,0,0,0,0,0,0,1.0,2.2,5.6,1.2,0,0,0,0,0,0,0,0,0,0,0,0,0,0,0,0.4,0.8,1.5,3.0,7.8,2.0,0.5,0.3],
[0.3,0,0,0,0,0,0,0,0,0.2,1.8,2.2,1.4,2.6,3.0,1.0,0.3,0,0,0,0,0,0,0.4,0,0,0.5,0.3,0,0,0,0,0,0,0,0.3,0.6,0,0,0,0,0,0,0,0,0.4,0.8,0,0.5,0.8,1.5,4.5,9.2,12.1,12.4,4.2,2.8,0.8,0,0,0],
[0.3,0,0,0,0,0,0,0,0,0.3,2.0,2.8,1.6,1.2,1.0,0.8,0.4,0,0,0,0,0,0,0,0.5,0,0,0,0,0,0,0,0.4,0.6,0,0,0,0,0,0,0,0,0,2.0,13.3,10.9,7.8,5.0,1.2,0,0,0,0,0,0,0,0,0,0,0,0],
[0.3,0,0,0,0,0,0,0,0,0.4,2.6,3.4,2.0,1.8,1.2,1.0,0.5,0,0,0,0,0,0,0.5,0.8,0,0,0,0,0,0,0,0,0,0,0.3,1.2,0.4,0,0,0,0,0,0,0,0,0,0,0,0.5,1.0,0.6,0,0,0,0,0,0,0.5,1.5,2.2],
[0.3,0,0,0,0,0,0,0,0,0.3,1.5,2.2,3.0,2.0,1.5,0.8,0.3,0,0,0,0,0,0,0,0.4,0.6,0,0,0,0,0,0,0,1.5,8.3,2.5,0.4,0,0,0,0,0,0,0,0,0,0,0,0,0,0,0,0,0.3,0,0,0,0,0.4,0,0],
[0.3,0,0,0,0,0,0,0,0,0.5,3.2,2.5,1.8,1.4,2.0,0.8,0.4,0,0,0,0,0,0,0.5,0.8,0,0,0,1.5,5.0,1.2,0,0,0,0,0.4,0,0,0,0,0,0,0,0,0,0,0,0,0,0,0,0,0,0,0,0,0.5,1.5,7.1,3.0,0.6],
[0.3,0,0,0,0,0,0,0,0,0.6,4.0,3.0,2.0,1.0,1.0,0.6,0.2,0,0,0,0,0,0,0,0,0.5,0,0,0,0,0,0,0,0,0.3,0.6,0,0,0,0,0,0,0.3,0.5,0,0,0,0,0,0,0,0,0,0,0,0.3,0.5,0,0,0,0],
[0.3,0,0,0,0,0,0,0,0,0.4,2.0,1.6,2.8,3.5,1.8,1.2,1.0,1.5,2.7,0.8,0,0,0,0,0,0,0,0,0,0,0,0,0,0.6,0.3,0,0,0,0,0,0,0,0,0,0,0,0.5,0,0,0,0,0,0,0,0,0,0.6,0.3,0,0,0],
[0.3,0,0,0,0,0,0,0,0,0.3,1.2,1.8,2.2,1.6,2.0,1.0,0.5,0,0,0,0,0,0.3,0,0,0,0,0,0,0,0,0,0.5,2.0,10.5,3.0,0.6,0,0,0,0,0,0,0,0,0,0,0,0,0,0,0,0,0,0,0,0,0,0.3,0.6,0.4],
[0.3,0,0,0,0,0,0,0,0,0.4,2.5,2.0,1.5,1.2,1.0,0.8,0.4,0,0,0,0,0,0,0,0,0,0.8,1.2,0,0,0,0,0,0,0,0,0,0,0,0,0,0,0,0,0.5,0.3,0,0,0,0,0,0,0,0,0,0,0,0,0,0,0],
[0.3,0,0,0,0,0,0,0,0,0.3,1.6,2.4,1.5,1.0,1.2,0.6,0.3,0,0,0,0,0,0,0,0,0,0,0,0.8,1.2,0.6,0,0,0,0,0,0,0,0,0.4,0.8,0,0,0,0,0,0,0,0,0,0.6,1.0,0.4,0,0,0,0,0,0,0,0],
[0.3,0,0,0,0,0,0,0,0,0.2,1.2,1.8,1.5,1.4,1.6,1.2,0.6,0,0,0,0,0,0,0,0.3,0.6,0.4,0,0,0,0,0,0,0,0,0,0.5,0.8,0,0,0,0,0,0,0,0,0,0,0,0,0,0,2.0,5.5,4.8,0.6,0,0,0,0,0],
[0.4,0,0,0,0,0,0,0,0,0.5,4.0,16.2,5.0,1.5,1.0,0.6,0.3,0,0,0,0,0,0,0,0,0,0,0,0,0,0,0,0.3,0.6,0,0,0,0,0,0,0,0,0,0,0,0.3,0,0,0,0,0,0,0,0,0,0,0,0,0.3,0.5,0.8],
[0.3,0,0,0,0,0,0,0,0,0.3,1.4,2.0,1.6,1.2,0.8,0.6,0.3,0,0,0,0,0,0,0,0,0,0,0,0,0.5,1.5,4.8,1.0,0,0,0,0,0,0,0,0,0,0,0,0,0.6,0.3,0,0,0,0,0,0,0,0,0,0,0,0,0,0],
[0.3,0,0,0,0,0,0,0,0,0.4,2.0,1.5,1.8,2.2,1.4,0.8,0.4,0,0,0,0,0,0,0,0,0,0,0,0,0,0,0,0,0,0.5,0.8,0,0,0,0,0,0,0,0,0,0,0,0,0,0,0,0,0,0,0,0,0,0.4,0,0,0],
[0.3,0,0,0,0,0,0,0,0,0.3,2.5,3.0,1.5,1.0,1.2,0.8,0.4,0,0,0,0,0,0,0.5,1.5,4.0,9.2,2.5,0,0,0,0,0,0,0,0,0,0,0,0,0,0,0,0,0.3,0,0,0,0,0,0,0,0,0,0,0,0,0,0,0,0],
[0.3,0,0,0,0,0,0,0,0,0.3,2.2,2.5,1.2,1.0,0.8,0.6,0.3,0,0,0,0,0,0,0,0,0,0,0,0,0,0,0,0,0,0,0.5,0.8,0.3,0,0,0,0,0,0,0,0,0,0,0,0,0.4,0.8,1.5,0.6,0,0,0,0,0,0,0],
[0.3,0,0,0,0,0,0,0,0,0.3,1.5,2.0,3.5,11.2,3.0,1.0,0.4,0,0,0,0,0,0,0,0,0,0.5,3.0,8.5,1.5,0,0,0,0,0,0,0,0,0,0,0,0,0,0,0,0,0,0,0,0,0,0,0,0,0,0,0,0,0,0,0],
[0.3,0,0,0,0,0,0,0,0,0.4,3.0,2.0,1.5,1.8,2.4,0.8,0.3,0,0,0,0,0,0,0,0,0.8,1.5,0.3,0,0,0,0,0,0,0,0,0,0,0,0,0,0,0,0,0,0,0,0.3,0,0,0,0,0,0,0,0,0,0,0,0,0],
[0.3,0,0,0,0,0,0,0,0,0.2,1.0,1.5,2.0,1.6,1.2,0.8,0.4,0,0,0,0,0,0,0,0,0,0,0,0,0,0,0,0,0,0.6,0,0,0,0,0,0,0,0,0,0,0,0,0,0,0,0,2.0,3.5,3.5,1.0,0,0,0,0,0,0],
[0.3,0,0,0,0,0,0,0,0,0.3,1.8,2.4,1.4,1.2,1.0,0.6,0.3,0,0,0,0,0,0,0,0,0,0,0,0,0,0,0,0,0,0.5,0.8,3.0,6.2,1.0,0,0,0,0,0,0,0,0,0,0,0,0,0,0,0,0,0,0,0,0.5,1.5,6.6],
[0.3,0,0,0,0,0,0,0,0,0.3,2.0,1.8,1.2,1.0,1.4,0.6,0.2,0,0,0,0,0,0,0,0,0,0,0,0,0,0,0,0,0,0,0,0,0,0,0,0,0,0.5,0.3,0,0,0,0,0,0,0,0,0,0,0,0,0,0,0,0,0],
[0.3,0,0,0,0,0,0,0,0,0.4,2.4,2.0,1.6,1.4,1.2,0.8,0.4,0,0,0,0,0,0,0,0,0,0,0,0,0,0,0,0,0,0.8,1.2,0.6,0.8,0.4,0,0,0,0,0,0,0,0,0,0,0,0,0,0,0,0,0,0,0,0,0,0],
[0.3,0,0,0,0,0,0,0,0,0.5,3.5,9.8,3.0,1.4,1.0,0.6,0.3,0,0,0,0,0,0,0,0,0,0,0,0,0,0,0,0,0,0,0,0,0,0,0,0,0,0,0,0,0,0,0,0,0,0,0,0,0,0.5,2.0,6.4,1.5,0,0,0],
[1.1,0.2,0,0,1.4,0.3,0,0,0,0.3,1.5,2.0,1.8,1.2,1.0,0.6,0.3,0,0,0,0,0,0,0,0,0,0,0,0,0,0,0,0,0,0,0,0,0,0,0,0,0,0,0,0,0,0,0,0.6,0.3,0,0,0,0,0,0,0,0,0,0,0],
[0.3,0,0,0,0,0,0,0,0,0.4,2.0,3.0,9.4,2.5,1.5,0.8,0.3,0,0,0,0,0,0,0,0,0,0,0,0,0,0,0,0,0,0,0,0,0,0,0,0,0,0,0,0,0,0,0,0,0,0,0,0,0,0,0,0,0,0,0,0],
[0.3,0,0,0,0,0,0,0,0,0.3,1.6,2.0,1.5,1.0,0.8,0.5,0.2,0,0,0,0,0,0,0,0,0,0,0,0,0,0,0,0,0,0,0,0,0,0,0,0,0,0,0,0,0,0,0,0,0.5,1.2,5.0,4.8,4.8,1.0,0.3,0,0,0,0,0],
[0.3,0,0,0,0,0,0,0,0,0.3,1.8,2.2,1.5,1.2,1.0,0.6,0.2,0,0,0,0,0,0,0,0,0,0,0,0,0,0,0,0,0,0,0,0,0,0,0,0,0,0,0,0,0,0,0.4,1.5,1.0,0,0,0,0,0,0,0,0.8,1.5,2.5,3.0],
[0.3,0,0,0,0,0,0,0,0,0.3,1.6,2.0,1.4,1.2,0.8,0.5,0.2,0,0,0,0,0,0,0,0,0,0,0,0,0,0,0,0,0,0,0,0,0,0,0,0,0,0,0,0,0,0,0,0,0,0,0,0.6,0.8,0,0,0,0,0,0,0],
[0.3,0,0,0,0,0,0,0,0,0.3,1.5,2.0,2.5,4.0,9.2,3.5,1.0,0.3,0,0,0,0,0,0,0,0,0,0,0,0,0,0,0,0,0,0,0,0,0,0,0,0,0,0,0,0,0,0,0,0,0,0,0,0,0,0,0,0,0,0,0],
[0.3,0,0,0,0,0,0,0,0,0.3,1.2,1.8,1.4,1.0,0.8,0.6,0.3,0,0,0,0,0,0,0,0,0,0,0,0,0,0,0,0,0,0,0,0,0,0,0,0,0,0,0,0,4.5,1.0,0,0,0,0,0,0,0,0,0,0,0,0,0,0]
];

// ---------- text ----------
const panelLabels = [{y: 15, label: "Temp. 850hPa"}, {y: -12.5, label: "Temp. 500hPa"}, {y: -40.3, label: "Précipitations"}];
const precipZero = -45;         // 0 mm sits on the -45 °C line (right axis = left axis + 45)
const yDomain = [-52.64, 33.07];

// ---------- rows ----------
const memberRows = (arrs, hours, off) => arrs.flatMap((vals, m) => vals.map((v, i) => ({m, h: hours[i], v: v + off, c: memberColors[m]})));
const seriesRows = (vals, hours, off) => vals.map((v, i) => ({h: hours[i], v: v + off}));
const r850 = memberRows(pert850, hours850, 0);
const r500 = memberRows(pert500, hours12, 0);
const rPr = memberRows(pertPrecip, hours6, precipZero);
const members = [...r850, ...r500, ...rPr];
const ctrlRows = [seriesRows(ctrl850, hours6, 0), seriesRows(ctrl500, hours6, 0), seriesRows(ctrlPrecip, hours6, precipZero)];
const meanRows = [seriesRows(mean850, hours6, 0), seriesRows(mean500, hours6, 0), seriesRows(meanPrecip, hours6, precipZero)];

const font = "DejaVu Sans Mono";
const plot = Plot.plot({
  width: 740, height: 700,
  marginLeft: 50, marginRight: 50, marginTop: 0, marginBottom: 100,
  x: {domain: [0, 360], axis: null},
  y: {domain: yDomain, axis: null},
  color: {type: "identity"},
  style: {fontFamily: font, fontSize: "10px", background: "white", color: "black"},
  marks: [
    Plot.ruleX(dayHours, {stroke: "#c0c0c0", strokeWidth: 1}),
    Plot.ruleY(gridMinor, {stroke: "#c0c0c0", strokeWidth: 1}),
    Plot.ruleY(gridMajor, {stroke: "#c0c0c0", strokeWidth: 2.2}),
    Plot.ruleY([0], {stroke: "#9c9c9c", strokeWidth: 3}),
    Plot.line(r850, {x: "h", y: "v", z: "m", stroke: "c", strokeWidth: 1}),
    Plot.line(r500, {x: "h", y: "v", z: "m", stroke: "c", strokeWidth: 1}),
    Plot.line(rPr, {x: "h", y: "v", z: "m", stroke: "c", strokeWidth: 1}),
    Plot.dot(members, {x: "h", y: "v", stroke: "c", symbol: "plus", r: 1.6, strokeWidth: 1}),
    ...ctrlRows.map(rows => Plot.line(rows, {x: "h", y: "v", stroke: "black", strokeWidth: 3})),
    ...meanRows.map(rows => Plot.line(rows, {x: "h", y: "v", stroke: "#ff0000", strokeWidth: 4.5})),
    Plot.ruleX([0, 360], {stroke: "black", strokeWidth: 1.5}),
    Plot.ruleY([yDomain[0]], {stroke: "black", strokeWidth: 1.5}),
    Plot.text(yTicks, {y: d => d, frameAnchor: "left", dx: -30, dy: 1.5, textAnchor: "start", text: d => String(d), fontSize: 10}),
    Plot.text(yTicks, {y: d => d, frameAnchor: "right", dx: 20, dy: 1.5, textAnchor: "start", text: (d, i) => rightTickLabels[i], fontSize: 10}),
    Plot.text(panelLabels, {y: "y", text: "label", frameAnchor: "left", dx: 10, textAnchor: "start", fontSize: 10})
  ]
});
document.getElementById("chart").appendChild(plot);

// ---------- date labels, units, legend, captions ----------
const svg = d3.select(plot);
const xs = plot.scale("x");
const g = svg.append("g").attr("font-family", font).attr("fill", "black").attr("text-anchor", "start");
dayHours.forEach((h, i) => {
  g.append("text").attr("transform", `translate(${xs.apply(h) + 10.5},603) rotate(-90)`)
    .attr("text-anchor", "end").attr("font-size", 9).text(dayLabels[i]);
});
g.append("text").attr("x", 20).attr("y", 611).attr("font-size", 10).text("(°C)");
g.append("text").attr("x", 710).attr("y", 611).attr("font-size", 10).text("(mm)");

g.append("rect").attr("x", 35).attr("y", 637).attr("width", 30).attr("height", 4).attr("fill", "#ff0000");
g.append("text").attr("x", 75).attr("y", 642.5).attr("font-size", 10).text("Moyenne des scénarios");
g.append("rect").attr("x", 225).attr("y", 637.5).attr("width", 30).attr("height", 3).attr("fill", "black");
g.append("text").attr("x", 264).attr("y", 642.5).attr("font-size", 10).text("Contrôle/Det");
g.append("text").attr("x", 368).attr("y", 655.5).attr("font-size", 10).text("50 Perts.");
memberColors.forEach((c, i) => {
  const col = i % 25, row = Math.floor(i / 25);
  g.append("rect").attr("x", 429 + col * 10).attr("y", 645 + row * 6).attr("width", 9.5).attr("height", 6).attr("fill", c);
  g.append("text").attr("x", 429 + col * 10).attr("y", row === 0 ? 644 : 666)
    .attr("font-size", 8.3).text(String(i + 1).padStart(2, "0"));
});
g.append("rect").attr("x", 20.5).attr("y", 667.5).attr("width", 419.5).attr("height", 32).attr("fill", "none").attr("stroke", "black").attr("stroke-width", 1.2);
g.append("text").attr("x", 30).attr("y", 681).attr("font-size", 11.5).attr("font-weight", "bold").text("Diagramme ensembles ECMWF/CEP 0.25° sur 360h : 40.6N 22.9E");
g.append("text").attr("x", 30).attr("y", 695.5).attr("font-size", 10).text("Températures 850hPa et 500hPa (°C) , précipitations (mm)");
g.append("text").attr("x", 450).attr("y", 678.5).attr("font-size", 10).text("Ensemble ECMWF/CEP du 07/05/2025 - 12Z");
g.append("text").attr("x", 450).attr("y", 696).attr("font-size", 11.5).attr("font-weight", "bold").text("Copyright 2025 Meteociel.fr - ECMWF");
</script>
</body></html>
